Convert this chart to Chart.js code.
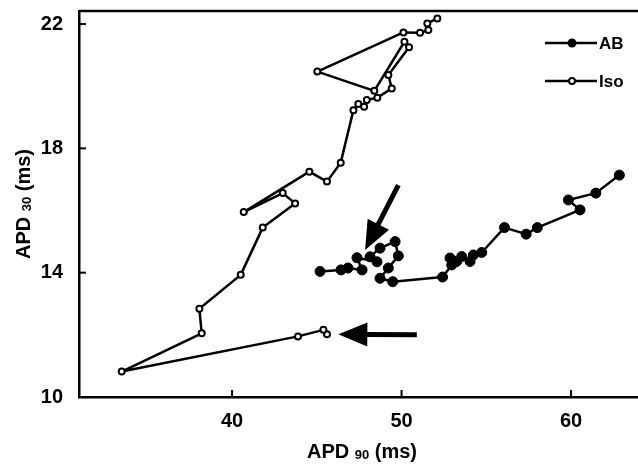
<!DOCTYPE html>
<html>
<head>
<meta charset="utf-8">
<script src="https://cdn.jsdelivr.net/npm/chart.js@4"></script>
<style>
  html, body { margin: 0; padding: 0; background: #fff; }
  canvas { display: block; }
</style>
</head>
<body>
<canvas id="apdChart" width="638" height="466"></canvas>
<script>
// APD90 (x) and APD30 (y) in ms, in recording order
const abX = [45.19, 46.43, 46.84, 47.67, 47.37, 48.55, 48.14, 48.73, 49.62, 49.81, 49.22, 48.73, 49.48,
             52.42, 52.96, 52.86, 53.25, 53.55, 54.04, 54.24, 54.73, 56.07, 57.35, 58.01, 60.53, 59.84, 61.46, 62.85];
const abY = [14.04, 14.09, 14.15, 14.09, 14.48, 14.35, 14.51, 14.79, 15.00, 14.54, 14.15, 13.82, 13.71,
             13.86, 14.25, 14.47, 14.36, 14.52, 14.36, 14.57, 14.65, 15.45, 15.24, 15.45, 16.02, 16.34, 16.56, 17.14];

const isoX = [45.60, 45.39, 43.89, 33.49, 38.21, 38.07, 40.51, 41.81, 43.72, 42.99, 40.69, 44.56, 45.60, 46.41,
              47.16, 47.45, 47.79, 47.95, 48.57, 49.42, 49.22, 50.44, 50.17, 48.39, 45.03, 50.11, 51.09, 51.58, 51.52, 52.11];
const isoY = [12.02, 12.16, 11.95, 10.82, 12.05, 12.84, 13.93, 15.45, 16.23, 16.56, 15.95, 17.25, 16.93, 17.54,
              19.23, 19.43, 19.34, 19.56, 19.63, 19.93, 20.36, 21.25, 21.43, 19.85, 20.47, 21.73, 21.72, 21.81, 22.02, 22.18];

const xTicks = [40, 50, 60];
const yTicks = [10, 14, 18, 22];
const seriesNames = ['AB', 'Iso'];

// arrows: [tailX, tailY, tipX, tipY] in data units
const arrows = [
    [50.9, 12.0, 46.27, 12.02],
    [49.81, 16.82, 47.85, 14.73]
];

const FONT = 'Liberation Sans, Arial, Helvetica, sans-serif';

function toPoints(xs, ys) {
    return xs.map((x, i) => ({x: x, y: ys[i]}));
}

// keep the plot box fixed: no extra room for edge labels
function fixBox(s, size) {
    if (s.isHorizontal()) s.height = size; else s.width = size;
    s.paddingTop = s.paddingBottom = s.paddingLeft = s.paddingRight = 0;
}

function drawArrow(ctx, x1, y1, x2, y2, headLen, headHalf, shaft) {
    const ang = Math.atan2(y2 - y1, x2 - x1);
    const bx = x2 - Math.cos(ang) * headLen;
    const by = y2 - Math.sin(ang) * headLen;
    ctx.save();
    ctx.strokeStyle = '#000';
    ctx.fillStyle = '#000';
    ctx.lineWidth = shaft;
    ctx.beginPath();
    ctx.moveTo(x1, y1);
    ctx.lineTo(bx + Math.cos(ang) * 2, by + Math.sin(ang) * 2);
    ctx.stroke();
    ctx.beginPath();
    ctx.moveTo(x2, y2);
    ctx.lineTo(bx + Math.sin(ang) * headHalf, by - Math.cos(ang) * headHalf);
    ctx.lineTo(bx - Math.sin(ang) * headHalf, by + Math.cos(ang) * headHalf);
    ctx.closePath();
    ctx.fill();
    ctx.restore();
}

// "APD" + subscript + " (ms)", centred on (0,0) of current transform
function drawSubTitle(ctx, main, sub, tail) {
    const big = 'bold 20px ' + FONT;
    const small = 'bold 13px ' + FONT;
    ctx.font = big;
    const w1 = ctx.measureText(main + ' ').width;
    const w3 = ctx.measureText(' ' + tail).width;
    ctx.font = small;
    const w2 = ctx.measureText(sub).width;
    let x = -(w1 + w2 + w3) / 2;
    ctx.textBaseline = 'alphabetic';
    ctx.textAlign = 'left';
    ctx.fillStyle = '#000';
    ctx.font = big;
    ctx.fillText(main + ' ', x, 0);
    x += w1;
    ctx.font = small;
    ctx.fillText(sub, x, 1);
    x += w2;
    ctx.font = big;
    ctx.fillText(' ' + tail, x, 0);
}

const decorations = {
    id: 'decorations',
    afterDatasetsDraw(chart) {
        const {ctx, chartArea: area, scales: {x, y}} = chart;
        ctx.save();
        ctx.strokeStyle = '#000';

        // top frame line
        ctx.lineWidth = 2.5;
        ctx.beginPath();
        ctx.moveTo(area.left, area.top);
        ctx.lineTo(chart.width, area.top);
        ctx.stroke();

        // inward tick marks
        ctx.lineWidth = 2;
        xTicks.forEach(v => {
            const px = x.getPixelForValue(v);
            ctx.beginPath();
            ctx.moveTo(px, area.bottom);
            ctx.lineTo(px, area.bottom - 7);
            ctx.stroke();
        });
        yTicks.forEach(v => {
            const py = y.getPixelForValue(v);
            ctx.beginPath();
            ctx.moveTo(area.left, py);
            ctx.lineTo(area.left + 7, py);
            ctx.stroke();
        });

        // arrows
        arrows.forEach(a => {
            drawArrow(ctx, x.getPixelForValue(a[0]), y.getPixelForValue(a[1]),
                      x.getPixelForValue(a[2]), y.getPixelForValue(a[3]), 29, 12, 5);
        });

        // legend
        const rows = [43, 81];
        rows.forEach((ry, i) => {
            ctx.lineWidth = 2.5;
            ctx.beginPath();
            ctx.moveTo(545, ry);
            ctx.lineTo(597, ry);
            ctx.stroke();
            ctx.beginPath();
            if (i === 0) {
                ctx.arc(572, ry, 4.5, 0, Math.PI * 2);
                ctx.fillStyle = '#000';
                ctx.fill();
            } else {
                ctx.arc(572, ry, 3, 0, Math.PI * 2);
                ctx.fillStyle = '#fff';
                ctx.fill();
                ctx.lineWidth = 2;
                ctx.stroke();
            }
            ctx.fillStyle = '#000';
            ctx.font = 'bold 17px ' + FONT;
            ctx.textAlign = 'left';
            ctx.textBaseline = 'middle';
            ctx.fillText(seriesNames[i], 599, ry + 1);
        });

        // axis titles
        ctx.save();
        ctx.translate(362, 458);
        drawSubTitle(ctx, 'APD', '90', '(ms)');
        ctx.restore();

        ctx.save();
        ctx.translate(30, (area.top + area.bottom) / 2);
        ctx.rotate(-Math.PI / 2);
        drawSubTitle(ctx, 'APD', '30', '(ms)');
        ctx.restore();

        ctx.restore();
    }
};

new Chart(document.getElementById('apdChart'), {
    type: 'scatter',
    data: {
        datasets: [{
            label: seriesNames[0],
            data: toPoints(abX, abY),
            showLine: true,
            borderColor: '#000',
            borderWidth: 2.5,
            borderJoinStyle: 'round',
            pointRadius: 5,
            pointBorderWidth: 1,
            pointBackgroundColor: '#000',
            pointBorderColor: '#000'
        }, {
            label: seriesNames[1],
            data: toPoints(isoX, isoY),
            showLine: true,
            borderColor: '#000',
            borderWidth: 2.5,
            borderJoinStyle: 'round',
            pointRadius: 3,
            pointBorderWidth: 2,
            pointBackgroundColor: '#fff',
            pointBorderColor: '#000'
        }]
    },
    options: {
        responsive: false,
        animation: false,
        devicePixelRatio: 1,
        layout: {autoPadding: false, padding: {top: 11, right: 1, left: 0, bottom: 0}},
        plugins: {legend: {display: false}, tooltip: {enabled: false}},
        scales: {
            x: {
                type: 'linear',
                min: 30.97,
                max: 63.89,
                afterBuildTicks: s => { s.ticks = xTicks.map(v => ({value: v})); },
                afterFit: s => fixBox(s, 69),
                grid: {display: false, drawTicks: false},
                border: {color: '#000', width: 2.5},
                ticks: {color: '#000', padding: 12, font: {family: FONT, size: 20, weight: 'bold'}}
            },
            y: {
                type: 'linear',
                min: 10,
                max: 22.42,
                afterBuildTicks: s => { s.ticks = yTicks.map(v => ({value: v})); },
                afterFit: s => fixBox(s, 79),
                grid: {display: false, drawTicks: false},
                border: {color: '#000', width: 2.5},
                ticks: {color: '#000', padding: 16, font: {family: FONT, size: 20, weight: 'bold'}}
            }
        }
    },
    plugins: [decorations]
});
</script>
</body>
</html>
